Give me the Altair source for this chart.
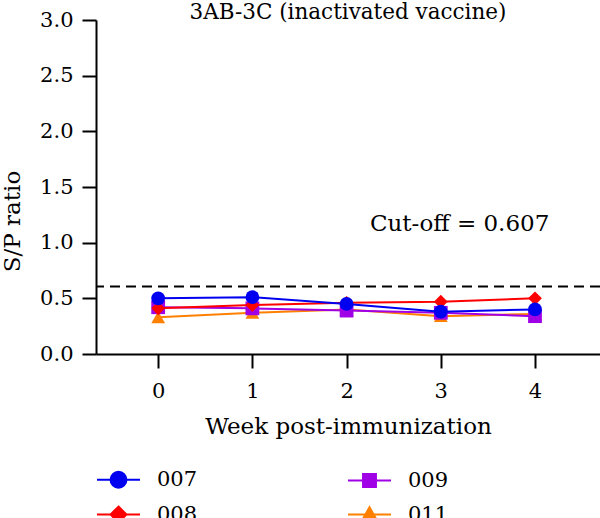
import altair as alt
import pandas as pd

weeks = [0, 1, 2, 3, 4]
series_ids = ["007", "008", "009", "011"]
s007 = [0.50, 0.51, 0.45, 0.38, 0.40]
s008 = [0.41, 0.44, 0.46, 0.47, 0.50]
s009 = [0.42, 0.41, 0.39, 0.37, 0.34]
s011 = [0.33, 0.37, 0.40, 0.34, 0.36]
colors = {"007": "#0000F0", "008": "#FF0000", "009": "#A000E6", "011": "#FF8000"}
shapes = {"007": "circle", "008": "diamond", "009": "square", "011": "triangle-up"}
cutoff = 0.607
cutoff_label = "Cut-off = 0.607"
title_text = "3AB-3C (inactivated vaccine)"

# legend symbols: line with marker
leg_paths = {
    "007": "M-1,0L1,0M0.37,0A0.37,0.37,0,1,1,-0.37,0A0.37,0.37,0,1,1,0.37,0Z",
    "008": "M-1,0L1,0M0,-0.37L0.37,0L0,0.37L-0.37,0Z",
    "009": "M-1,0L1,0M-0.3,-0.3L0.3,-0.3L0.3,0.3L-0.3,0.3Z",
    "011": "M-1,0L1,0M0,-0.34L0.36,0.3L-0.36,0.3Z",
}

vals = {"007": s007, "008": s008, "009": s009, "011": s011}
rows = []
for sid in series_ids:
    for w, v in zip(weeks, vals[sid]):
        rows.append({"id": sid, "week": w, "ratio": v})
df = pd.DataFrame(rows)

FONT = "DejaVu Serif"

xscale = alt.Scale(domain=[-0.66, 4.69], nice=False, zero=False)
yscale = alt.Scale(domain=[0, 3], nice=False)
xaxis = alt.Axis(values=weeks, title="Week post-immunization", format="d",
                 tickSize=14, tickWidth=2, domainWidth=2, tickColor="black",
                 domainColor="black", labelPadding=12, titlePadding=14,
                 labelFontSize=21, titleFontSize=23, labelColor="black",
                 titleColor="black", titleFontWeight="normal", grid=False)
yaxis = alt.Axis(values=[0, 0.5, 1, 1.5, 2, 2.5, 3], format=".1f", title="S/P ratio",
                 tickSize=14, tickWidth=2, domainWidth=2, tickColor="black",
                 domainColor="black", labelPadding=9, labelFontSize=21,
                 titleFontSize=23, labelColor="black", titleColor="black",
                 titleFontWeight="normal", grid=False, titleX=-84, titleY=201,
                 titleBaseline="middle", titleAlign="center")

X = alt.X("week:Q", scale=xscale, axis=xaxis)
Y = alt.Y("ratio:Q", scale=yscale, axis=yaxis)

cut_df = pd.DataFrame({"ratio": [cutoff]})
rule = alt.Chart(cut_df).mark_rule(color="black", strokeWidth=2, strokeDash=[10, 6]).encode(
    y=alt.Y("ratio:Q", scale=yscale, axis=yaxis))

layers = [rule]
for sid in ["011", "009", "008", "007"]:
    base = alt.Chart(df).transform_filter(alt.datum.id == sid)
    layers.append(base.mark_line(color=colors[sid], strokeWidth=2).encode(x=X, y=Y))
    layers.append(base.mark_point(shape=shapes[sid], filled=True, size=190, opacity=1,
                                  color=colors[sid]).encode(x=X, y=Y))

lab_df = pd.DataFrame({"week": [3.2], "ratio": [1.17], "text": [cutoff_label]})
label = alt.Chart(lab_df).mark_text(fontSize=23, font=FONT, color="black",
                                    align="center", baseline="middle").encode(
    x=X, y=Y, text="text:N")
layers.append(label)

# legend: two columns, filled column by column (007, 008 | 009, 011)
leg = alt.Legend(title=None, orient="none", legendX=0, legendY=437, columns=2,
                 columnPadding=146, rowPadding=-15, symbolSize=1849, symbolStrokeWidth=2,
                 labelFont=FONT, labelFontSize=21, labelColor="black", labelOffset=16,
                 symbolOpacity=1, padding=0)
color_range = [colors[k] for k in series_ids]
legend_layer = alt.Chart(df).transform_filter("false").mark_point(filled=True, opacity=1).encode(
    x=X, y=Y,
    fill=alt.Fill("id:N", scale=alt.Scale(domain=series_ids, range=color_range), legend=leg),
    stroke=alt.Stroke("id:N", scale=alt.Scale(domain=series_ids, range=color_range), legend=leg),
    shape=alt.Shape("id:N", scale=alt.Scale(domain=series_ids, range=[leg_paths[k] for k in series_ids]), legend=leg),
)
layers.append(legend_layer)

chart = alt.layer(*layers).resolve_scale(
    shape="independent", fill="independent", stroke="independent"
).properties(
    width=504, height=334,
    title=alt.TitleParams(title_text, fontSize=21.5, font=FONT, fontWeight="normal",
                          color="black", anchor="middle", offset=-14, frame="group"),
    autosize=alt.AutoSizeParams(type="none"),
    padding={"left": 96, "top": 20, "right": 0, "bottom": 164},
).configure(font=FONT).configure_axis(labelFont=FONT, titleFont=FONT).configure_view(stroke=None)

chart.save("out.html", embed_options={"renderer": "svg", "actions": False})
